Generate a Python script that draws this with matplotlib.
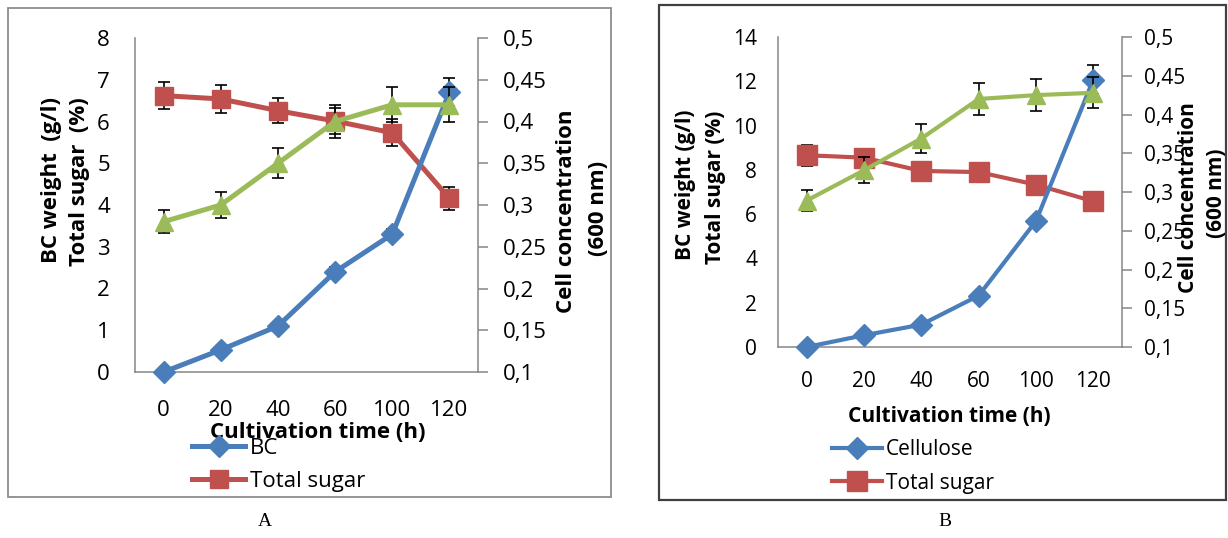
import matplotlib
matplotlib.use("Agg")
import matplotlib.pyplot as plt
from matplotlib.patches import Rectangle
from matplotlib.ticker import FuncFormatter

# ---- data -------------------------------------------------------------
hours = ["0", "20", "40", "60", "100", "120"]

# panel A
bc_a = [0.0, 0.53, 1.10, 2.40, 3.30, 6.70]
bc_a_err = [0.03, 0.05, 0.08, 0.12, 0.13, 0.34]
sugar_a = [6.62, 6.54, 6.26, 6.01, 5.73, 4.16]
sugar_a_err = [0.33, 0.33, 0.30, 0.31, 0.32, 0.28]
cell_a = [0.28, 0.30, 0.35, 0.40, 0.42, 0.42]
cell_a_err = [0.014, 0.015, 0.018, 0.020, 0.021, 0.021]

# panel B
bc_b = [0.0, 0.53, 1.01, 2.32, 5.69, 12.08]
bc_b_err = [0.03, 0.05, 0.08, 0.10, 0.20, 0.65]
sugar_b = [8.66, 8.55, 7.95, 7.90, 7.33, 6.58]
sugar_b_err = [0.48, 0.20, 0.20, 0.20, 0.20, 0.20]
cell_b = [0.289, 0.328, 0.369, 0.420, 0.425, 0.428]
cell_b_err = [0.0135, 0.017, 0.019, 0.021, 0.021, 0.020]

left_ticks_a = list(range(0, 9))
left_ticks_b = list(range(0, 15, 2))
right_ticks = [0.1, 0.15, 0.2, 0.25, 0.3, 0.35, 0.4, 0.45, 0.5]

BLUE = "#4a7ebb"
RED = "#c0504d"
GREEN = "#9bbb59"
AXIS = "#868686"

W, H = 1228, 538
plt.rcParams["font.family"] = ["Open Sans", "DejaVu Sans"]

fig = plt.figure(figsize=(W / 100, H / 100), dpi=100)


def fx(x):
    return x / W


def fy(y):
    return 1 - y / H


def comma(v, _pos=None):
    return f"{v:g}".replace(".", ",")


def draw_panel(box, frame, bc, bc_err, sugar, sugar_err, cell, cell_err,
               lticks, fs, lw, ms, pads, bc_name):
    l, t, r, b = box
    ax = fig.add_axes([fx(l), fy(b), fx(r - l), (b - t) / H])
    ax2 = ax.twinx()
    xs = range(len(hours))

    eb = dict(fmt="none", ecolor="black", elinewidth=1.2, capsize=4.5,
              capthick=1.2, zorder=1, clip_on=False)
    ax.errorbar(xs, bc, yerr=bc_err, **eb)
    ax.errorbar(xs, sugar, yerr=sugar_err, **eb)
    h_bc, = ax.plot(xs, bc, color=BLUE, lw=lw, marker="D", ms=ms[0],
                    zorder=3, clip_on=False, label=bc_name)
    h_su, = ax.plot(xs, sugar, color=RED, lw=lw, marker="s", ms=ms[1],
                    zorder=2, clip_on=False, label="Total sugar")
    ax2.errorbar(xs, cell, yerr=cell_err, **eb)
    ax2.plot(xs, cell, color=GREEN, lw=lw, marker="^", ms=ms[2],
             zorder=2, clip_on=False)

    ax.set_xlim(-0.5, len(hours) - 0.5)
    ax.set_ylim(lticks[0], lticks[-1])
    ax.set_yticks(lticks)
    ax.set_xticks(list(xs))
    ax.set_xticklabels(hours)
    ax2.set_ylim(0.1, 0.5)
    ax2.set_yticks(right_ticks)
    ax2.yaxis.set_major_formatter(FuncFormatter(comma))

    for a in (ax, ax2):
        for s in a.spines.values():
            s.set_visible(False)
    ax.spines["left"].set_visible(True)
    ax.spines["bottom"].set_visible(True)
    ax2.spines["right"].set_visible(True)
    for s in (ax.spines["left"], ax.spines["bottom"], ax2.spines["right"]):
        s.set_color(AXIS)
        s.set_linewidth(1.1)

    ax.tick_params(axis="y", length=0, pad=pads[0], labelsize=fs, colors="black")
    ax.tick_params(axis="x", length=0, pad=pads[1], labelsize=fs)
    ax2.tick_params(axis="y", length=7, width=1.1, color=AXIS, pad=pads[2],
                    labelsize=fs)

    # frame around the panel
    fl, ft, fr, fb, fc, flw = frame
    fig.patches.append(Rectangle((fx(fl), fy(fb)), fx(fr - fl), (fb - ft) / H,
                                 transform=fig.transFigure, fill=False,
                                 edgecolor=fc, linewidth=flw))
    return h_bc, h_su


# ---------------- panel A ----------------
h1, h2 = draw_panel((135, 38, 478, 372), (8, 8, 611, 497, "#8c8c8c", 1.3),
                    bc_a, bc_a_err, sugar_a, sugar_a_err, cell_a, cell_a_err,
                    left_ticks_a, 16, 3.6, (11, 12.5, 13), (18, 20, 11), "BC")
fig.text(fx(52), fy(180), "BC weight  (g/l)", rotation=90, ha="center",
         va="center", fontsize=16, fontweight="bold")
fig.text(fx(80), fy(182), "Total sugar  (%)", rotation=90, ha="center",
         va="center", fontsize=16, fontweight="bold")
fig.text(fx(567), fy(211), "Cell concentration", rotation=90, ha="center",
         va="center", fontsize=16, fontweight="bold")
fig.text(fx(598), fy(208), "(600 nm)", rotation=90, ha="center",
         va="center", fontsize=16, fontweight="bold")
fig.text(fx(318), fy(433), "Cultivation time (h)", ha="center", va="center",
         fontsize=16, fontweight="bold")
fig.legend(handles=[h1, h2], loc="upper left",
           bbox_to_anchor=(fx(192), fy(438)), frameon=False, fontsize=16,
           borderpad=0, borderaxespad=0, handlelength=2.4, handletextpad=0.2,
           labelspacing=0.55)
fig.text(fx(265), fy(522), "A", ha="center", va="center", fontsize=14,
         family="Liberation Serif")

# ---------------- panel B ----------------
h1, h2 = draw_panel((778, 37, 1122, 347), (659, 5, 1226, 500, "#404040", 1.6),
                    bc_b, bc_b_err, sugar_b, sugar_b_err, cell_b, cell_b_err,
                    left_ticks_b, 15, 3.0, (11, 14, 13), (15, 17, 9), "Cellulose")
fig.text(fx(685), fy(185), "BC weight (g/l)", rotation=90, ha="center",
         va="center", fontsize=15, fontweight="bold")
fig.text(fx(715), fy(187), "Total sugar (%)", rotation=90, ha="center",
         va="center", fontsize=15, fontweight="bold")
fig.text(fx(1188), fy(198), "Cell concentration", rotation=90, ha="center",
         va="center", fontsize=15, fontweight="bold")
fig.text(fx(1217), fy(193), "(600 nm)", rotation=90, ha="center",
         va="center", fontsize=15, fontweight="bold")
fig.text(fx(949), fy(417), "Cultivation time (h)", ha="center", va="center",
         fontsize=15, fontweight="bold")
fig.legend(handles=[h1, h2], loc="upper left",
           bbox_to_anchor=(fx(832), fy(439)), frameon=False, fontsize=15,
           borderpad=0, borderaxespad=0, handlelength=2.4, handletextpad=0.2,
           labelspacing=0.6)
fig.text(fx(945), fy(522), "B", ha="center", va="center", fontsize=14,
         family="Liberation Serif")

fig.savefig("out.png", dpi=100)
